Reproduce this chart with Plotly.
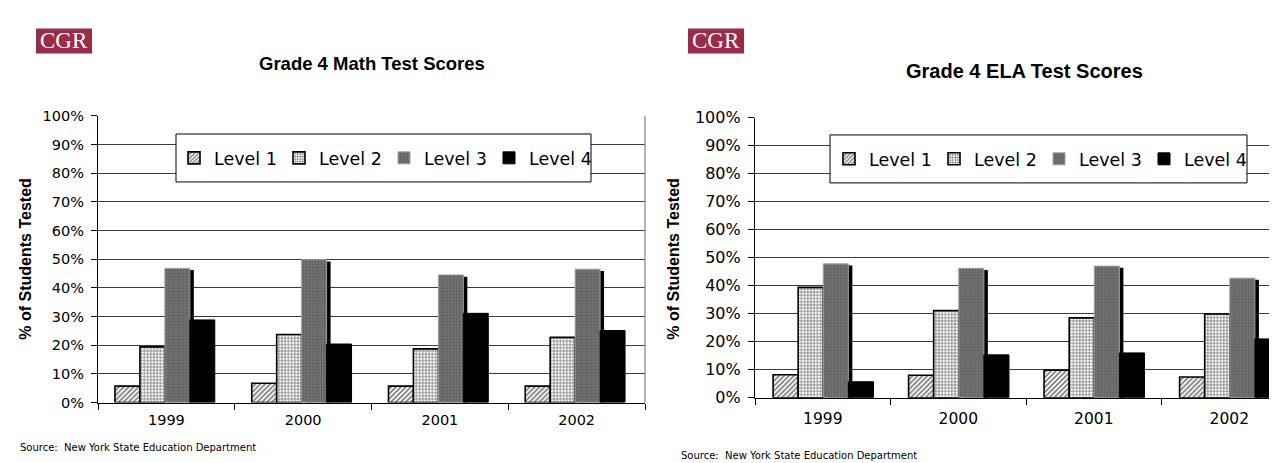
import plotly.graph_objects as go

W, H = 1277, 463

years = ["1999", "2000", "2001", "2002"]
levels = ["Level 1", "Level 2", "Level 3", "Level 4"]

math_l1 = [5.7, 6.7, 5.7, 5.7]
math_l2 = [19.4, 23.7, 18.7, 22.7]
math_l3 = [46.8, 49.8, 44.5, 46.5]
math_l4 = [28.8, 20.4, 31.1, 25.1]

ela_l1 = [8.2, 8.0, 9.8, 7.4]
ela_l2 = [39.4, 31.1, 28.5, 29.9]
ela_l3 = [47.8, 46.2, 47.0, 42.7]
ela_l4 = [5.7, 15.3, 16.0, 21.0]

y_ticks = [0, 10, 20, 30, 40, 50, 60, 70, 80, 90, 100]
y_tick_text = [f"{v}%" for v in y_ticks]

titles = ["Grade 4 Math Test Scores", "Grade 4 ELA Test Scores"]
y_title = "% of Students Tested"
source = "Source:  New York State Education Department"


def px(x):
    return x / W


def py(y):
    return (H - y) / H


markers = [
    dict(color="white", line=dict(color="black", width=1.6),
         pattern=dict(shape="/", fgcolor="black", bgcolor="white", size=3.5, solidity=0.5)),
    dict(color="white", line=dict(color="black", width=1.6),
         pattern=dict(shape="+", fgcolor="black", bgcolor="white", size=3.2, solidity=0.45)),
    dict(color="#6c6c6c", line=dict(color="#a0a0a0", width=1),
         pattern=dict(shape=".", fgcolor="#4a4a4a", bgcolor="#777777", size=3, solidity=0.5)),
    dict(color="black", line=dict(color="black", width=1)),
]

fig = go.Figure()

charts = [
    dict(data=[math_l1, math_l2, math_l3, math_l4], xa="x", ya="y", legend="legend",
         bw=25 / 137, start=-0.5 + 17 / 137, sh=4 / 137),
    dict(data=[ela_l1, ela_l2, ela_l3, ela_l4], xa="x2", ya="y2", legend="legend2",
         bw=25 / 135, start=-0.5 + 18 / 135, sh=4 / 135),
]

for c in charts:
    bw = c["bw"]
    offs = [c["start"] + i * bw for i in range(4)]
    # shadow behind Level 3 bars
    fig.add_trace(go.Bar(
        x=years, y=[v - 0.6 for v in c["data"][2]], offset=offs[2] + c["sh"], width=bw,
        marker=dict(color="black", line=dict(width=0)), showlegend=False,
        xaxis=c["xa"], yaxis=c["ya"], hoverinfo="skip"))
    for i, name in enumerate(levels):
        fig.add_trace(go.Bar(
            x=years, y=c["data"][i], name=name, offset=offs[i], width=bw,
            marker=markers[i], xaxis=c["xa"], yaxis=c["ya"], legend=c["legend"]))

fig.update_layout(
    width=W, height=H, autosize=False,
    margin=dict(l=0, r=0, t=0, b=0),
    paper_bgcolor="white", plot_bgcolor="white",
    barmode="overlay",
    font=dict(family="DejaVu Sans", color="black"),
)


def xaxis_style(size, standoff):
    return dict(type="category", showgrid=False, showline=True, linecolor="black", linewidth=1.2,
                ticks="outside", ticklen=6, tickcolor="black", tickson="boundaries",
                ticklabelstandoff=standoff,
                tickfont=dict(size=size, family="DejaVu Sans"), fixedrange=True)


def yaxis_style(size):
    return dict(range=[0, 100], tickvals=y_ticks, ticktext=y_tick_text, showgrid=True,
                gridcolor="#3c3c3c", gridwidth=1, showline=True, linecolor="black", linewidth=1.2,
                ticks="outside", ticklen=6, tickcolor="black", zeroline=False, ticklabelstandoff=4,
                tickfont=dict(size=size, family="DejaVu Sans"), fixedrange=True)


fig.update_layout(
    xaxis=dict(domain=[px(90), px(637)], range=[-0.5, 3.5], anchor="y", **xaxis_style(14.5, 4)),
    yaxis=dict(domain=[py(402), py(103)], anchor="x", **yaxis_style(14.5)),
    xaxis2=dict(domain=[px(747), 1.0], range=[-0.5, 3.5 - 12 / 135], anchor="y2", **xaxis_style(15.5, 7)),
    yaxis2=dict(domain=[py(397), py(105)], anchor="x2", **yaxis_style(16)),
)

shapes = []
annotations = []

legend_boxes = [(168, 122, 583, 172), (822, 123, 1239, 173)]
for (lx0, ly0, lx1, ly1) in legend_boxes:
    shapes.append(dict(type="rect", xref="paper", yref="paper", x0=px(lx0), x1=px(lx1),
                       y0=py(ly1), y1=py(ly0), fillcolor="white", line=dict(color="black", width=1),
                       layer="above"))

# right border of left chart
shapes.append(dict(type="line", xref="paper", yref="paper", x0=px(637), x1=px(637), y0=py(402), y1=py(103),
                   line=dict(color="#808080", width=1.2)))

leg_common = dict(orientation="h", bgcolor="rgba(0,0,0,0)", borderwidth=0,
                  font=dict(size=17.5, family="DejaVu Sans"), xanchor="left", yanchor="middle",
                  entrywidth=60, entrywidthmode="pixels", itemclick=False, itemdoubleclick=False)
fig.update_layout(
    legend=dict(x=px(166), y=py(147), **leg_common),
    legend2=dict(x=px(821), y=py(148), **leg_common),
)

offsets = [0, 652]
title_x = [364, 1016]
title_y = [49, 56]
title_size = [18.5, 20]
ytitle_x = [18, 666]
src_pos = [(10, 449), (671, 457)]
for k, dx in enumerate(offsets):
    # CGR logo
    shapes.append(dict(type="rect", xref="paper", yref="paper", x0=px(28 + dx), x1=px(84 + dx),
                       y0=py(38), y1=py(12), fillcolor="#9c2b47", line=dict(width=0)))
    annotations.append(dict(text="CGR", x=px(56 + dx), y=py(25), xref="paper", yref="paper",
                            showarrow=False, font=dict(family="Liberation Serif", size=23, color="white"),
                            xanchor="center", yanchor="middle"))
    annotations.append(dict(text=f"<b>{titles[k]}</b>", x=px(title_x[k]), y=py(title_y[k]),
                            xref="paper", yref="paper", showarrow=False,
                            font=dict(family="Liberation Sans", size=title_size[k], color="black"),
                            xanchor="center", yanchor="middle"))
    annotations.append(dict(text=f"<b>{y_title}</b>", x=px(ytitle_x[k]), y=py(252), xref="paper",
                            yref="paper", showarrow=False, textangle=-90,
                            font=dict(family="Liberation Sans", size=16, color="black"),
                            xanchor="center", yanchor="middle"))
    annotations.append(dict(text=source, x=px(src_pos[k][0]), y=py(src_pos[k][1]), xref="paper",
                            yref="paper", showarrow=False,
                            font=dict(family="DejaVu Sans", size=10, color="black"),
                            xanchor="left", yanchor="middle"))

fig.update_layout(shapes=shapes, annotations=annotations)

fig.write_html("out.html")
